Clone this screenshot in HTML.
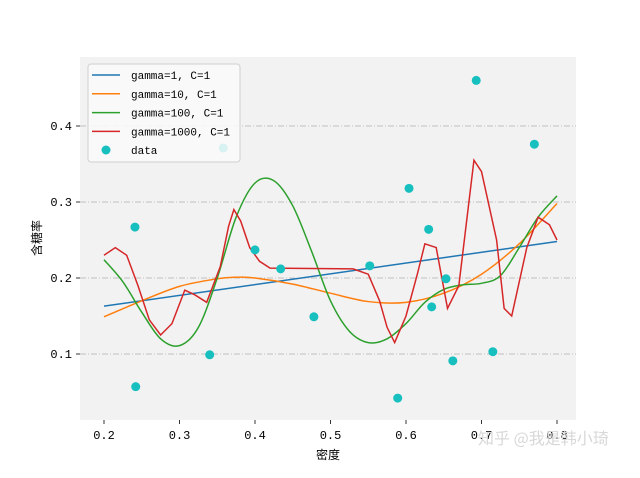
<!DOCTYPE html>
<html><head><meta charset="utf-8"><style>
body{margin:0;background:#fff;}
svg text{font-family:"Liberation Mono","Noto Sans CJK SC",monospace;}
</style></head><body>
<svg id="c" width="640" height="473" xmlns="http://www.w3.org/2000/svg"></svg>
<script>
const ticksX=[0.2,0.3,0.4,0.5,0.6,0.7,0.8];
const ticksY=[0.1,0.2,0.3,0.4];
const dataX=[0.241,0.242,0.340,0.358,0.400,0.434,0.478,0.552,0.589,0.604,0.630,0.634,0.653,0.662,0.693,0.715,0.770];
const dataY=[0.267,0.057,0.099,0.371,0.237,0.212,0.149,0.216,0.042,0.318,0.264,0.162,0.199,0.091,0.460,0.103,0.376];
const g1X=[0.2,0.8], g1Y=[0.163,0.248];
const g10X=[0.2,0.25,0.3,0.35,0.375,0.4,0.45,0.5,0.55,0.6,0.65,0.7,0.75,0.8];
const g10Y=[0.149,0.170,0.189,0.199,0.201,0.200,0.192,0.180,0.169,0.168,0.180,0.205,0.245,0.298];
const g100X=[0.2,0.225,0.25,0.275,0.3,0.325,0.35,0.375,0.4,0.425,0.45,0.475,0.5,0.525,0.55,0.575,0.6,0.625,0.65,0.675,0.7,0.725,0.75,0.775,0.8];
const g100Y=[0.224,0.195,0.155,0.120,0.111,0.135,0.200,0.280,0.325,0.328,0.295,0.235,0.170,0.130,0.115,0.120,0.140,0.168,0.185,0.191,0.193,0.203,0.240,0.280,0.308];
const g1000X=[0.2,0.215,0.23,0.245,0.26,0.275,0.29,0.307,0.32,0.336,0.354,0.365,0.372,0.381,0.393,0.406,0.42,0.53,0.55,0.565,0.575,0.585,0.6,0.615,0.625,0.64,0.655,0.67,0.69,0.7,0.72,0.73,0.74,0.76,0.775,0.79,0.8];
const g1000Y=[0.230,0.240,0.230,0.190,0.145,0.125,0.140,0.184,0.178,0.168,0.215,0.268,0.290,0.275,0.240,0.222,0.213,0.212,0.205,0.170,0.135,0.115,0.150,0.205,0.245,0.240,0.160,0.190,0.355,0.340,0.250,0.160,0.150,0.240,0.280,0.270,0.250];
const L=80,R=576,T=57,B=420;
const sx=v=>104+(v-0.2)*755;
const sy=v=>354-(v-0.1)*760;
const svg=document.getElementById('c');
const NS='http://www.w3.org/2000/svg';
function mk(t,a,p){const e=document.createElementNS(NS,t);for(const k in a)e.setAttribute(k,a[k]);(p||svg).appendChild(e);return e;}
let e=mk('rect',{x:L,y:T,width:R-L,height:B-T,fill:'#f2f2f2'});


ticksY.forEach(v=>{
 let g=mk('line',{x1:L,x2:R,y1:sy(v),y2:sy(v),stroke:'#b0b0b0','stroke-width':0.8,'stroke-dasharray':'6,2,1,2'});
 
 
 mk('line',{x1:L-4,x2:L,y1:sy(v),y2:sy(v),stroke:'#000','stroke-width':0.8});
 let t=mk('text',{x:L-8,y:sy(v)+4,'text-anchor':'end','font-size':12,fill:'#000'});t.textContent=v.toFixed(1);
 
 
});
ticksX.forEach(v=>{
 mk('line',{x1:sx(v),x2:sx(v),y1:B,y2:B+4,stroke:'#000','stroke-width':0.8});
 let t=mk('text',{x:sx(v),y:B+19,'text-anchor':'middle','font-size':12,fill:'#000'});t.textContent=v.toFixed(1);
 
 
});
function line(X,Y,c,n,smooth){
 const P=X.map((x,i)=>[sx(x),sy(Y[i])]);
 let d='M'+P[0][0]+','+P[0][1];
 if(smooth){
  for(let i=0;i<P.length-1;i++){
   const p0=P[Math.max(i-1,0)],p1=P[i],p2=P[i+1],p3=P[Math.min(i+2,P.length-1)];
   const c1=[p1[0]+(p2[0]-p0[0])/6,p1[1]+(p2[1]-p0[1])/6];
   const c2=[p2[0]-(p3[0]-p1[0])/6,p2[1]-(p3[1]-p1[1])/6];
   d+=' C'+c1+' '+c2+' '+p2;
  }
 } else {for(let i=1;i<P.length;i++)d+=' L'+P[i];}
 let p=mk('path',{d:d,fill:'none',stroke:c,'stroke-width':1.5});
 
 }
line(g1X,g1Y,'#1f77b4','line-gamma-1',false);
line(g10X,g10Y,'#ff7f0e','line-gamma-10',true);
line(g100X,g100Y,'#2ca02c','line-gamma-100',true);
line(g1000X,g1000Y,'#d62728','line-gamma-1000',false);
dataX.forEach((x,i)=>{let c=mk('circle',{cx:sx(x),cy:sy(dataY[i]),r:4.5,fill:'#17bfbf'});
 
 });
let lg=mk('g',{});


mk('rect',{x:88,y:64,width:152,height:98,rx:3,fill:'#fafafa','fill-opacity':0.85,stroke:'#d0d0d0'},lg);
const labs=['gamma=1, C=1','gamma=10, C=1','gamma=100, C=1','gamma=1000, C=1'];
const cols=['#1f77b4','#ff7f0e','#2ca02c','#d62728'];
labs.forEach((s,i)=>{const y=75+i*18.8;
 mk('line',{x1:92,x2:120,y1:y,y2:y,stroke:cols[i],'stroke-width':1.5},lg);
 let t=mk('text',{x:131,y:y+4,'font-size':11,fill:'#000',textLength:s.length*6.6,lengthAdjust:'spacingAndGlyphs'},lg);t.textContent=s;
 
 });
mk('circle',{cx:106,cy:150,r:4.5,fill:'#17bfbf'},lg);
let t=mk('text',{x:131,y:154,'font-size':11,fill:'#000'},lg);t.textContent='data';


t=mk('text',{x:328,y:459,'text-anchor':'middle','font-size':12,fill:'#000'});t.textContent='密度';


t=mk('text',{x:41,y:238,'text-anchor':'middle','font-size':12,fill:'#000',transform:'rotate(-90 41 238)'});t.textContent='含糖率';


t=mk('text',{x:478,y:444,'font-size':16,fill:'#d8d8d8',style:'font-family:"Noto Sans CJK SC",sans-serif'});t.textContent='知乎 @我是韩小琦';


</script>
</body></html>
